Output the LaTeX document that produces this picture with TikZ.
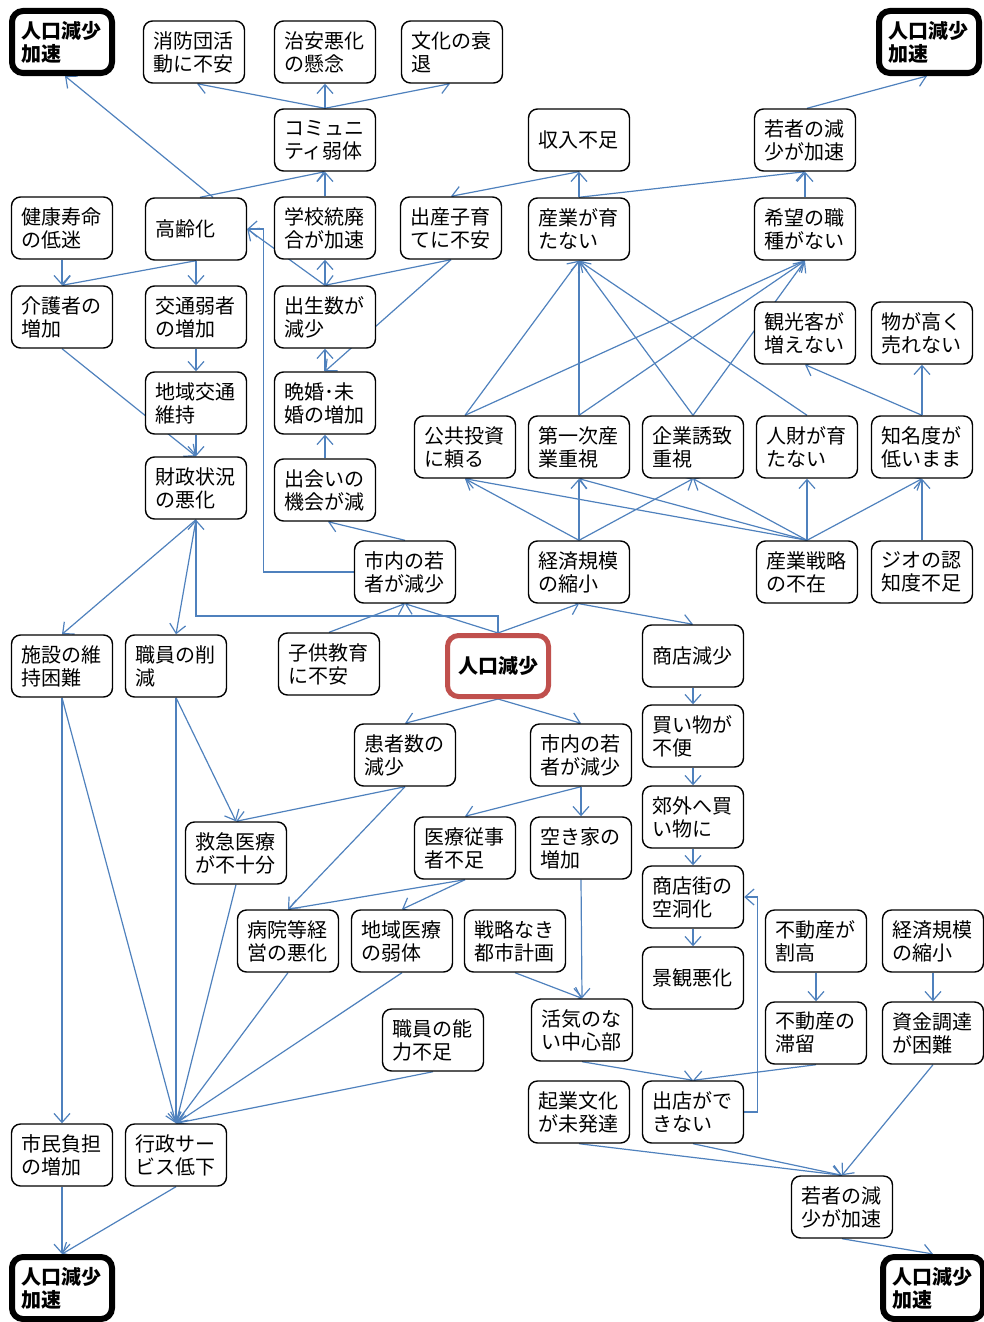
\documentclass[tikz,border=0pt]{standalone}
\usepackage{fontspec}
\setmainfont{Noto Sans CJK JP}
\usetikzlibrary{arrows.meta,backgrounds}
\definecolor{edgeblue}{RGB}{79,129,189}
\definecolor{boxred}{RGB}{192,80,77}
\tikzset{
  box/.style={draw, line width=1.4pt, rounded corners=9pt, fill=white, text width=82pt, align=left,
    inner xsep=9.5pt, inner ysep=0pt, minimum height=62pt, font=\fontsize{20}{23}\selectfont},
  accbox/.style={box, line width=6pt, rounded corners=11pt, inner xsep=9pt, font=\fontsize{20}{23}\selectfont\bfseries},
  redbox/.style={box, draw=boxred, line width=5pt, rounded corners=11pt, align=center, minimum height=61pt, font=\fontsize{20}{23}\selectfont\bfseries},
  edge/.style={draw=edgeblue, line width=1.2pt, -{Straight Barb[length=9pt,width=16pt]}}
}
\begin{document}
\begin{tikzpicture}[x=1pt,y=-1pt]
\useasboundingbox (0,0) rectangle (984,1322);
% top row
\node[accbox] (accTL) at (62,42) {人口減少\\加速};
\node[box] (shobo) at (194,52) {消防団活\\動に不安};
\node[box] (chian) at (325,52) {治安悪化\\の懸念};
\node[box] (bunka) at (452,52) {文化の衰\\退};
\node[accbox] (accTR) at (929,42) {人口減少\\加速};
% row 2
\node[box] (comm) at (325,140) {コミュニ\\ティ弱体};
\node[box] (shunyu) at (579,140) {収入不足};
\node[box] (wakaT) at (805,140) {若者の減\\少が加速};
% row 3
\node[box] (kenko) at (62,228) {健康寿命\\の低迷};
\node[box] (korei) at (196,229) {高齢化};
\node[box] (gakko) at (325,228) {学校統廃\\合が加速};
\node[box] (shussan) at (451,228) {出産子育\\てに不安};
\node[box] (sangyo) at (579,229) {産業が育\\たない};
\node[box] (kibo) at (805,229) {希望の職\\種がない};
% row 4
\node[box] (kaigo) at (62,317) {介護者の\\増加};
\node[box] (kotsu) at (196,317) {交通弱者\\の増加};
\node[box] (shusse) at (325,317) {出生数が\\減少};
\node[box] (kanko) at (805,333) {観光客が\\増えない};
\node[box] (mono) at (922,333) {物が高く\\売れない};
% row 5
\node[box] (chiiki) at (196,403) {地域交通\\維持};
\node[box] (bankon) at (325,403) {晩婚･未\\婚の増加};
\node[box] (kokyo) at (465,447) {公共投資\\に頼る};
\node[box] (daiichi) at (579,447) {第一次産\\業重視};
\node[box] (kigyo) at (693,447) {企業誘致\\重視};
\node[box] (jinzai) at (807,447) {人財が育\\たない};
\node[box] (chimei) at (922,447) {知名度が\\低いまま};
% row 6
\node[box] (zaisei) at (196,488) {財政状況\\の悪化};
\node[box] (deai) at (325,490) {出会いの\\機会が減};
\node[box] (wakaU) at (405,572) {市内の若\\者が減少};
\node[box] (keizaiU) at (579,572) {経済規模\\の縮小};
\node[box] (senryaku) at (807,572) {産業戦略\\の不在};
\node[box] (geo) at (922,572) {ジオの認\\知度不足};
% row 7
\node[box] (shisetsu) at (62,666) {施設の維\\持困難};
\node[box] (shokuin) at (176,666) {職員の削\\減};
\node[box] (kodomo) at (329,664) {子供教育\\に不安};
\node[redbox] (jinko) at (498,666) {人口減少};
\node[box] (shoten) at (693,656) {商店減少};
% row 8
\node[box] (kanja) at (405,755) {患者数の\\減少};
\node[box] (wakaL) at (581,755) {市内の若\\者が減少};
\node[box] (kaimono) at (693,736) {買い物が\\不便};
% row 9
\node[box] (kyukyu) at (236,853) {救急医療\\が不十分};
\node[box] (iryo) at (465,848) {医療従事\\者不足};
\node[box] (akiya) at (581,848) {空き家の\\増加};
\node[box] (kogai) at (693,817) {郊外へ買\\い物に};
\node[box] (shotengai) at (693,897) {商店街の\\空洞化};
% row 10
\node[box] (byoin) at (288,941) {病院等経\\営の悪化};
\node[box] (chiikiI) at (402,941) {地域医療\\の弱体};
\node[box] (toshi) at (515,941) {戦略なき\\都市計画};
\node[box] (fudoW) at (816,941) {不動産が\\割高};
\node[box] (keizaiL) at (933,941) {経済規模\\の縮小};
\node[box] (keikan) at (693,978) {景観悪化};
% row 11
\node[box] (noryoku) at (433,1040) {職員の能\\力不足};
\node[box] (kakki) at (582,1030) {活気のな\\い中心部};
\node[box] (fudoT) at (816,1033) {不動産の\\滞留};
\node[box] (shikin) at (933,1033) {資金調達\\が困難};
% row 12
\node[box] (shimin) at (62,1155) {市民負担\\の増加};
\node[box] (gyosei) at (176,1155) {行政サー\\ビス低下};
\node[box] (kigyoB) at (579,1112) {起業文化\\が未発達};
\node[box] (shutten) at (693,1112) {出店がで\\きない};
% row 13
\node[box] (wakaB) at (842,1207) {若者の減\\少が加速};
\node[accbox] (accBL) at (62,1288) {人口減少\\加速};
\node[accbox] (accBR) at (933,1288) {人口減少\\加速};

\begin{pgfonlayer}{background}
\draw[edge] ([xshift=17pt]korei.north) -- ([xshift=3pt]accTL.south);
\draw[edge] (comm.north) -- ([xshift=3pt]shobo.south);
\draw[edge] (comm.north) -- (chian.south);
\draw[edge] (comm.north) -- ([xshift=-2pt]bunka.south);
\draw[edge] (gakko.north) -- (comm.south);
\draw[edge] ([xshift=4pt]korei.north) -- (comm.south);
\draw[edge] (kenko.south) -- (kaigo.north);
\draw[edge] (korei.south) -- (kaigo.north);
\draw[edge] (korei.south) -- (kotsu.north);
\draw[edge] (shusse.north) -- (gakko.south);
\draw[edge] (shusse.north) -- (korei.east);
\draw[edge] (shussan.south) -- (shusse.north);
\draw[edge] (shussan.south) -- (bankon.north);
\draw[edge] (bankon.north) -- (shusse.south);
\draw[edge] (deai.north) -- (bankon.south);
\draw[edge] (wakaU.north) -- ([xshift=3pt]deai.south);
\draw[edge] (wakaU.west) -- ++(-90,0) |- (korei.east);
\draw[edge] (kaigo.south) -- (zaisei.north);
\draw[edge] (kotsu.south) -- (chiiki.north);
\draw[edge] (chiiki.south) -- (zaisei.north);
\draw[edge] (zaisei.south) -- (shisetsu.north);
\draw[edge] (zaisei.south) -- (shokuin.north);
\draw[edge] (jinko.north) -- ++(0,-17) -| (zaisei.south);
\draw[edge] (jinko.north) -- (wakaU.south);
\draw[edge] (kodomo.north) -- (wakaU.south);
\draw[edge] (jinko.north) -- (keizaiU.south);
\draw[edge] (keizaiU.south) -- (shoten.north);
\draw[edge] (keizaiU.north) -- (kokyo.south);
\draw[edge] (keizaiU.north) -- (daiichi.south);
\draw[edge] (keizaiU.north) -- (kigyo.south);
\draw[edge] (senryaku.north) -- (kokyo.south);
\draw[edge] (senryaku.north) -- (daiichi.south);
\draw[edge] (senryaku.north) -- (kigyo.south);
\draw[edge] (senryaku.north) -- (jinzai.south);
\draw[edge] (senryaku.north) -- (chimei.south);
\draw[edge] (geo.north) -- (chimei.south);
\draw[edge] (chimei.north) -- (kanko.south);
\draw[edge] (chimei.north) -- (mono.south);
\draw[edge] (kokyo.north) -- (sangyo.south);
\draw[edge] (kokyo.north) -- (kibo.south);
\draw[edge] (daiichi.north) -- (sangyo.south);
\draw[edge] (daiichi.north) -- (kibo.south);
\draw[edge] (kigyo.north) -- (sangyo.south);
\draw[edge] (kigyo.north) -- (kibo.south);
\draw[edge] (jinzai.north) -- (sangyo.south);
\draw[edge] (sangyo.north) -- (shunyu.south);
\draw[edge] (sangyo.north) -- (wakaT.south);
\draw[edge] (kibo.north) -- (wakaT.south);
\draw[edge] (shunyu.south) -- (shussan.north);
\draw[edge] ([xshift=2pt]wakaT.north) -- ([xshift=-2pt]accTR.south);
\draw[edge] (jinko.south) -- (kanja.north);
\draw[edge] (jinko.south) -- (wakaL.north);
\draw[edge] (kanja.south) -- (kyukyu.north);
\draw[edge] (kanja.south) -- (byoin.north);
\draw[edge] (shokuin.south) -- (kyukyu.north);
\draw[edge] (wakaL.south) -- (iryo.north);
\draw[edge] (wakaL.south) -- (akiya.north);
\draw[edge] (iryo.south) -- (byoin.north);
\draw[edge] (iryo.south) -- (chiikiI.north);
\draw[edge] (akiya.south) -- (kakki.north);
\draw[edge] (toshi.south) -- (kakki.north);
\draw[edge] (kakki.south) -- (shutten.north);
\draw[edge] (fudoT.south) -- (shutten.north);
\draw[edge] (shutten.east) -- ++(13,0) |- (shotengai.east);
\draw[edge] (shoten.south) -- (kaimono.north);
\draw[edge] (kaimono.south) -- (kogai.north);
\draw[edge] (kogai.south) -- (shotengai.north);
\draw[edge] (shotengai.south) -- (keikan.north);
\draw[edge] (fudoW.south) -- (fudoT.north);
\draw[edge] (keizaiL.south) -- (shikin.north);
\draw[edge] (shikin.south) -- (wakaB.north);
\draw[edge] (kigyoB.south) -- (wakaB.north);
\draw[edge] (shutten.south) -- (wakaB.north);
\draw[edge] (wakaB.south) -- (accBR.north);
\draw[edge] (shisetsu.south) -- (shimin.north);
\draw[edge] (shisetsu.south) -- (gyosei.north);
\draw[edge] (shokuin.south) -- (gyosei.north);
\draw[edge] (kyukyu.south) -- (gyosei.north);
\draw[edge] (byoin.south) -- (gyosei.north);
\draw[edge] (chiikiI.south) -- (gyosei.north);
\draw[edge] (noryoku.south) -- (gyosei.north);
\draw[edge] (shimin.south) -- (accBL.north);
\draw[edge] (gyosei.south) -- (accBL.north);
\end{pgfonlayer}
\end{tikzpicture}
\end{document}
